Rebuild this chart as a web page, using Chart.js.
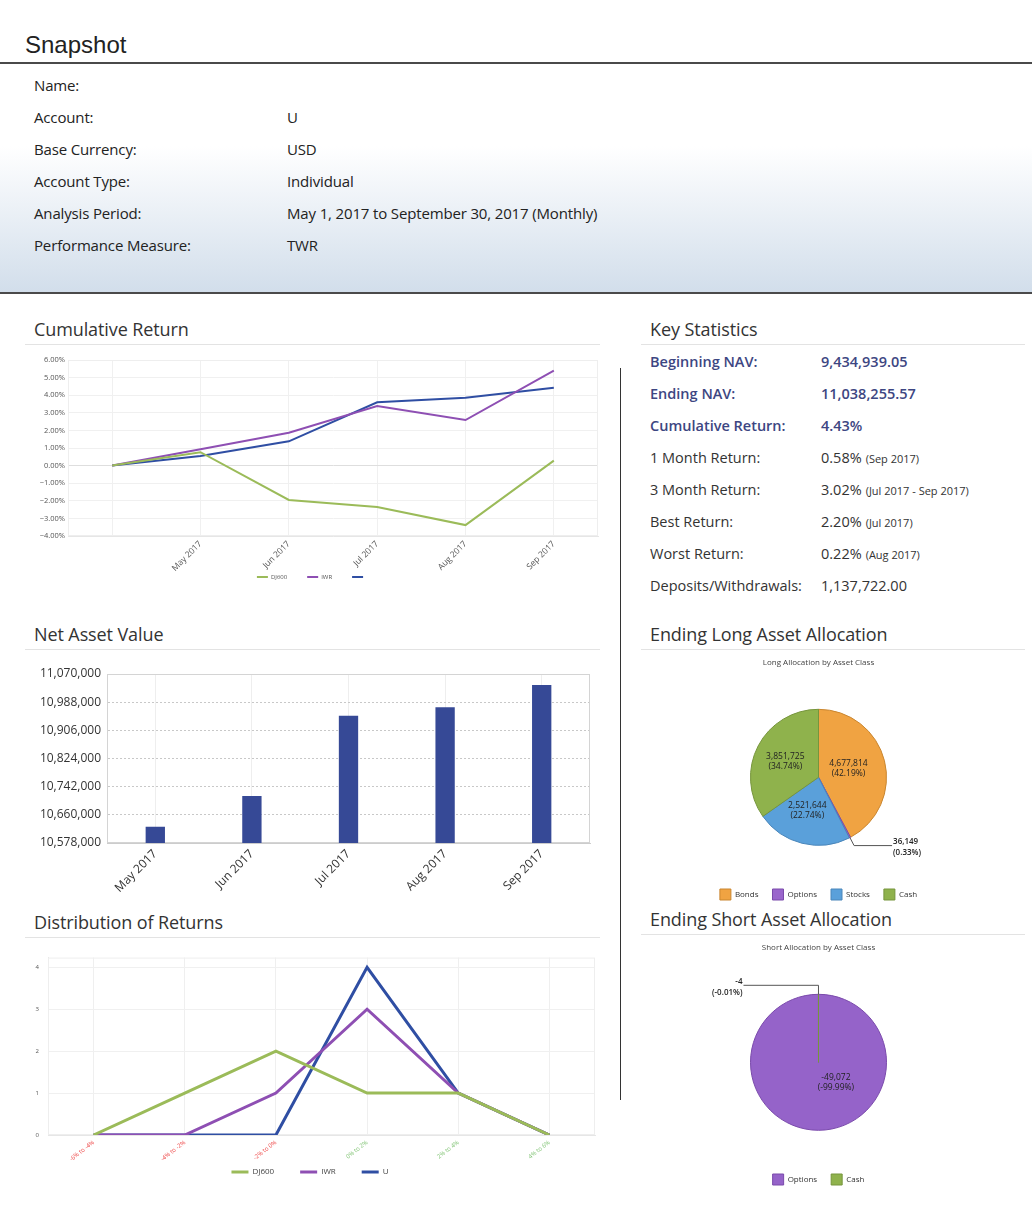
<!DOCTYPE html>
<html>
<head>
<meta charset="utf-8">
<script src="https://cdn.jsdelivr.net/npm/chart.js@4.4.0/dist/chart.umd.min.js"></script>
<style>
    body { margin: 0; width: 1032px; height: 1210px; position: relative; overflow: hidden; background: #fff; font-family: "Open Sans", sans-serif; color: #333; }
    .abs { position: absolute; white-space: nowrap; }
    .info { font-size: 15px; line-height: 20px; color: #222; letter-spacing: -0.15px; }
    .stat { font-size: 14.5px; line-height: 20px; color: #333; }
    .stat.key { color: #3d4682; font-weight: 600; }
    .stat small { font-size: 11px; margin-left: 4px; }
    .heading { font-size: 18px; line-height: 24px; color: #333; letter-spacing: -0.1px; }
    .rule { position: absolute; height: 1px; background: #e3e3e3; }
    .chart { position: absolute; }
</style>
</head>
<body>
    <!-- Snapshot header -->
    <div class="abs" style="left:25px;top:31px;font:24px 'Liberation Sans',Arial,sans-serif;color:#222;">Snapshot</div>
    <div class="abs" style="left:0;top:62px;width:1032px;height:228px;border-top:2px solid #4a4a4a;border-bottom:2px solid #4a4a4a;background:linear-gradient(to bottom,#fff 0%,#fff 36%,#d2deeb 100%);"></div>

    <div class="abs info" style="left:34px;top:75px;">Name:</div>
    <div class="abs info" style="left:34px;top:107px;">Account:</div>
    <div class="abs info" style="left:287px;top:107px;">U</div>
    <div class="abs info" style="left:34px;top:139px;">Base Currency:</div>
    <div class="abs info" style="left:287px;top:139px;">USD</div>
    <div class="abs info" style="left:34px;top:171px;">Account Type:</div>
    <div class="abs info" style="left:287px;top:171px;">Individual</div>
    <div class="abs info" style="left:34px;top:203px;">Analysis Period:</div>
    <div class="abs info" style="left:287px;top:203px;">May 1, 2017 to September 30, 2017 (Monthly)</div>
    <div class="abs info" style="left:34px;top:235px;">Performance Measure:</div>
    <div class="abs info" style="left:287px;top:235px;">TWR</div>

    <!-- section headings -->
    <div class="abs heading" style="left:34px;top:317px;">Cumulative Return</div>
    <div class="rule" style="left:25px;top:344px;width:575px;"></div>
    <div class="abs heading" style="left:34px;top:622px;">Net Asset Value</div>
    <div class="rule" style="left:25px;top:649px;width:575px;"></div>
    <div class="abs heading" style="left:34px;top:910px;">Distribution of Returns</div>
    <div class="rule" style="left:25px;top:937px;width:575px;"></div>

    <div class="abs heading" style="left:650px;top:317px;">Key Statistics</div>
    <div class="rule" style="left:641px;top:344px;width:384px;"></div>
    <div class="abs heading" style="left:650px;top:622px;">Ending Long Asset Allocation</div>
    <div class="rule" style="left:641px;top:649px;width:384px;"></div>
    <div class="abs heading" style="left:650px;top:907px;">Ending Short Asset Allocation</div>
    <div class="rule" style="left:641px;top:934px;width:384px;"></div>

    <div class="abs" style="left:620px;top:368px;width:1px;height:732px;background:#333;"></div>

    <!-- key statistics -->
    <div class="abs stat key" style="left:650px;top:352px;">Beginning NAV:</div>
    <div class="abs stat key" style="left:821px;top:352px;">9,434,939.05</div>
    <div class="abs stat key" style="left:650px;top:384px;">Ending NAV:</div>
    <div class="abs stat key" style="left:821px;top:384px;">11,038,255.57</div>
    <div class="abs stat key" style="left:650px;top:416px;">Cumulative Return:</div>
    <div class="abs stat key" style="left:821px;top:416px;">4.43%</div>
    <div class="abs stat" style="left:650px;top:448px;">1 Month Return:</div>
    <div class="abs stat" style="left:821px;top:448px;">0.58%<small>(Sep 2017)</small></div>
    <div class="abs stat" style="left:650px;top:480px;">3 Month Return:</div>
    <div class="abs stat" style="left:821px;top:480px;">3.02%<small>(Jul 2017 - Sep 2017)</small></div>
    <div class="abs stat" style="left:650px;top:512px;">Best Return:</div>
    <div class="abs stat" style="left:821px;top:512px;">2.20%<small>(Jul 2017)</small></div>
    <div class="abs stat" style="left:650px;top:544px;">Worst Return:</div>
    <div class="abs stat" style="left:821px;top:544px;">0.22%<small>(Aug 2017)</small></div>
    <div class="abs stat" style="left:650px;top:576px;">Deposits/Withdrawals:</div>
    <div class="abs stat" style="left:821px;top:576px;">1,137,722.00</div>

    <!-- charts -->
    <div class="chart" style="left:25px;top:350px;width:575px;height:258px;"><canvas id="cumChart"></canvas></div>
    <div class="chart" style="left:25px;top:655px;width:575px;height:245px;"><canvas id="navChart"></canvas></div>
    <div class="chart" style="left:25px;top:945px;width:575px;height:262px;"><canvas id="distChart"></canvas></div>
    <div class="chart" style="left:633px;top:652px;width:392px;height:258px;"><canvas id="longChart"></canvas></div>
    <div class="chart" style="left:633px;top:937px;width:392px;height:258px;"><canvas id="shortChart"></canvas></div>

<script>
// Cumulative return (%)
const cumLabels = ['', 'May 2017', 'Jun 2017', 'Jul 2017', 'Aug 2017', 'Sep 2017'];
const cumDJ600 = [0, 0.76, -1.95, -2.35, -3.38, 0.28];
const cumIWR = [0, 0.93, 1.87, 3.39, 2.59, 5.39];
const cumU = [0, 0.55, 1.38, 3.60, 3.85, 4.43];
const cumMin = -4, cumMax = 6;

// Net asset value
const navMonths = ['May 2017', 'Jun 2017', 'Jul 2017', 'Aug 2017', 'Sep 2017'];
const navValues = [10625500, 10714800, 10948600, 10973000, 11038256];
const navMin = 10578000, navMax = 11070000, navStep = 82000;

// Distribution of returns (count of months)
const distBuckets = ['-6% to -4%', '-4% to -2%', '-2% to 0%', '0% to 2%', '2% to 4%', '4% to 6%'];
const distDJ600 = [0, 1, 2, 1, 1, 0];
const distIWR = [0, 0, 1, 3, 1, 0];
const distU = [0, 0, 0, 4, 1, 0];

// Asset allocation
const longClasses = ['Bonds', 'Options', 'Stocks', 'Cash'];
const longValues = [4677814, 36149, 2521644, 3851725];
const shortClasses = ['Options', 'Cash'];
const shortValues = [-49072, -4];

const GREEN = '#9bbb59', PURPLE = '#8e4fb3', BLUE = '#2f4ea3';
Chart.defaults.font.family = '"Open Sans", sans-serif';
Chart.defaults.animation = false;

// thin frame round the plot area
const areaBorder = {
    id: 'areaBorder',
    beforeDatasetsDraw(chart, args, opts) {
        const { ctx, chartArea: a } = chart;
        ctx.save();
        ctx.strokeStyle = opts.color || '#e5e5e5';
        ctx.lineWidth = 1;
        ctx.strokeRect(a.left + 0.5, a.top + 0.5, a.width - 1, a.height - 1);
        ctx.restore();
    }
};

// pull the bottom legend up closer to the axis labels
const legendLift = {
    id: 'legendLift',
    afterLayout(chart, args, opts) {
        if (chart.legend && opts.by) {
            chart.legend.top -= opts.by;
            chart.legend.bottom -= opts.by;
        }
    }
};

// legend swatches drawn as flat lines
function lineLegendLabels(chart) {
    const items = Chart.defaults.plugins.legend.labels.generateLabels(chart);
    items.forEach(it => { it.fillStyle = it.strokeStyle; it.lineWidth = 0; });
    return items;
}

// value + percent labels on the pies
const sliceLabels = {
    id: 'sliceLabels',
    afterDatasetsDraw(chart, args, opts) {
        const ctx = chart.ctx;
        const data = chart.data.datasets[0].data;
        const total = data.reduce((a, b) => a + Math.abs(b), 0);
        const meta = chart.getDatasetMeta(0);
        ctx.save();
        ctx.fillStyle = '#222';
        ctx.textBaseline = 'middle';
        meta.data.forEach((arc, i) => {
            const v = data[i];
            const pct = (v / total) * 100;
            const txt = [v.toLocaleString('en-US'), '(' + pct.toFixed(2) + '%)'];
            if (Math.abs(pct) >= 3) {
                // big slice: label inside, nudged toward the lower right when it fills the pie
                let p = arc.tooltipPosition();
                if (Math.abs(pct) > 90) {
                    p = { x: arc.x + arc.outerRadius * 0.3, y: arc.y + arc.outerRadius * 0.3 };
                }
                ctx.font = '8.5px "Open Sans"';
                ctx.textAlign = 'center';
                ctx.fillText(txt[0], p.x - 3, p.y - 5);
                ctx.fillText(txt[1], p.x - 3, p.y + 5);
            } else {
                const mid = (arc.startAngle + arc.endAngle) / 2;
                const r = arc.outerRadius;
                const x0 = arc.x + Math.cos(mid) * r, y0 = arc.y + Math.sin(mid) * r;
                const x1 = arc.x + Math.cos(mid) * (r + 9), y1 = arc.y + Math.sin(mid) * (r + 9);
                const dir = opts.side === 'left' ? -1 : 1;
                const x2 = x1 + dir * opts.length;
                ctx.strokeStyle = '#555';
                ctx.lineWidth = 1;
                ctx.beginPath();
                ctx.moveTo(x0, y0);
                ctx.lineTo(x1, y1);
                ctx.lineTo(x2, y1);
                ctx.stroke();
                ctx.font = '600 8px "Open Sans"';
                ctx.textAlign = dir < 0 ? 'right' : 'left';
                const tx = x2 + dir * 1;
                ctx.fillText(txt[0], tx, y1 - 4);
                ctx.fillText(txt[1], tx, y1 + 7);
            }
        });
        ctx.restore();
    }
};

// Cumulative Return
new Chart(document.getElementById('cumChart'), {
    type: 'line',
    data: {
        labels: cumLabels,
        datasets: [
            { label: 'DJ600', data: cumDJ600, borderColor: GREEN, backgroundColor: GREEN },
            { label: 'IWR', data: cumIWR, borderColor: PURPLE, backgroundColor: PURPLE },
            { label: '', data: cumU, borderColor: BLUE, backgroundColor: BLUE }
        ]
    },
    options: {
        responsive: true,
        maintainAspectRatio: false,
        layout: { padding: { top: 10, right: 2 } },
        elements: { point: { radius: 0 }, line: { borderWidth: 2, tension: 0 } },
        scales: {
            x: {
                offset: true,
                grid: { offset: false, color: '#f0f0f0', drawTicks: false },
                border: { color: '#e6e6e6' },
                ticks: { minRotation: 45, maxRotation: 45, autoSkip: false, padding: 3, color: '#555', font: { size: 8.5 } },
                afterFit(axis) { axis.height = 36; }
            },
            y: {
                min: cumMin,
                max: cumMax,
                grid: { color: ctx => ctx.tick && ctx.tick.value === 0 ? '#dedede' : '#f0f0f0', drawTicks: false },
                border: { color: '#e6e6e6' },
                ticks: {
                    stepSize: 1, padding: 3, color: '#555', font: { size: 7.5 },
                    callback: v => (v < 0 ? '\u2212' : '') + Math.abs(v).toFixed(2) + '%'
                },
                afterFit(axis) { axis.width = 43; }
            }
        },
        plugins: {
            areaBorder: { color: '#eeeeee' },
            legendLift: { by: 18 },
            tooltip: { enabled: false },
            legend: {
                position: 'bottom',
                labels: { boxWidth: 11, boxHeight: 2, padding: 20, color: '#555', font: { size: 6 }, generateLabels: lineLegendLabels }
            }
        }
    },
    plugins: [areaBorder, legendLift]
});

// Net Asset Value
new Chart(document.getElementById('navChart'), {
    type: 'bar',
    data: {
        labels: navMonths,
        datasets: [{ label: 'NAV', data: navValues, backgroundColor: '#364996', barPercentage: 1, categoryPercentage: 0.2 }]
    },
    options: {
        responsive: true,
        maintainAspectRatio: false,
        layout: { padding: { top: 19, right: 10 } },
        scales: {
            x: {
                grid: { offset: false, color: '#eeeeee', drawTicks: false },
                border: { color: '#cccccc' },
                ticks: { minRotation: 45, maxRotation: 45, autoSkip: false, padding: 4, color: '#333', font: { size: 12 } },
                afterFit(axis) { axis.height = 57; }
            },
            y: {
                min: navMin,
                max: navMax,
                grid: { color: '#c8c8c8', drawTicks: false },
                border: { color: '#cccccc', dash: [2, 2] },
                ticks: { stepSize: navStep, padding: 6, color: '#333', font: { size: 12 }, callback: v => v.toLocaleString('en-US') },
                afterFit(axis) { axis.width = 82; }
            }
        },
        plugins: {
            areaBorder: { color: '#d4d4d4' },
            legend: { display: false },
            tooltip: { enabled: false }
        }
    },
    plugins: [areaBorder]
});

// Distribution of Returns
new Chart(document.getElementById('distChart'), {
    type: 'line',
    data: {
        labels: distBuckets,
        datasets: [
            { label: 'DJ600', data: distDJ600, borderColor: GREEN, backgroundColor: GREEN },
            { label: 'IWR', data: distIWR, borderColor: PURPLE, backgroundColor: PURPLE },
            { label: 'U', data: distU, borderColor: BLUE, backgroundColor: BLUE }
        ]
    },
    options: {
        responsive: true,
        maintainAspectRatio: false,
        layout: { padding: { top: 9, right: 5 } },
        elements: { point: { radius: 0 }, line: { borderWidth: 3, tension: 0 } },
        scales: {
            x: {
                offset: true,
                grid: { offset: false, color: '#efefef', drawTicks: false },
                border: { color: '#e6e6e6' },
                ticks: {
                    minRotation: 38, maxRotation: 38, autoSkip: false, padding: 4, font: { size: 6 },
                    color: ctx => distBuckets[ctx.index].startsWith('-') ? '#ee4d4d' : '#86c67a'
                },
                afterFit(axis) { axis.height = 28; }
            },
            y: {
                min: 0,
                max: 4.23,
                grid: { color: '#f0f0f0', drawTicks: false },
                border: { color: '#e6e6e6' },
                ticks: { stepSize: 1, includeBounds: false, padding: 9, color: '#555', font: { size: 6 } },
                afterFit(axis) { axis.width = 23; }
            }
        },
        plugins: {
            areaBorder: { color: '#eeeeee' },
            legendLift: { by: 21 },
            tooltip: { enabled: false },
            legend: {
                position: 'bottom',
                labels: { boxWidth: 17, boxHeight: 3, padding: 26, color: '#444', font: { size: 8 }, generateLabels: lineLegendLabels }
            }
        }
    },
    plugins: [areaBorder, legendLift]
});

// Pie helpers
function pieConfig(labels, values, colors, edges, title, callout) {
    return {
        type: 'pie',
        data: {
            labels: labels,
            datasets: [{ data: values, backgroundColor: colors, borderColor: edges, borderWidth: 1, radius: 68 }]
        },
        options: {
            responsive: true,
            maintainAspectRatio: false,
            layout: { padding: { right: 21 } },
            plugins: {
                title: { display: true, text: title, color: '#444', font: { size: 8, weight: 'normal' }, padding: { top: 6, bottom: 12 } },
                legend: {
                    position: 'bottom',
                    labels: { boxWidth: 11, boxHeight: 11, padding: 14, color: '#333', font: { size: 8 } }
                },
                tooltip: { enabled: false },
                sliceLabels: callout
            }
        },
        plugins: [sliceLabels]
    };
}

new Chart(document.getElementById('longChart'), pieConfig(
    longClasses, longValues,
    ['#f0a342', '#9a66cc', '#5aa0da', '#8fb24c'],
    ['#c98630', '#7a4aab', '#4a86ba', '#76953c'],
    'Long Allocation by Asset Class',
    { side: 'right', length: 38 }
));

new Chart(document.getElementById('shortChart'), pieConfig(
    shortClasses, shortValues,
    ['#9563c9', '#8fb24c'],
    ['#7a4aab', '#76953c'],
    'Short Allocation by Asset Class',
    { side: 'left', length: 75 }
));
</script>
</body>
</html>
